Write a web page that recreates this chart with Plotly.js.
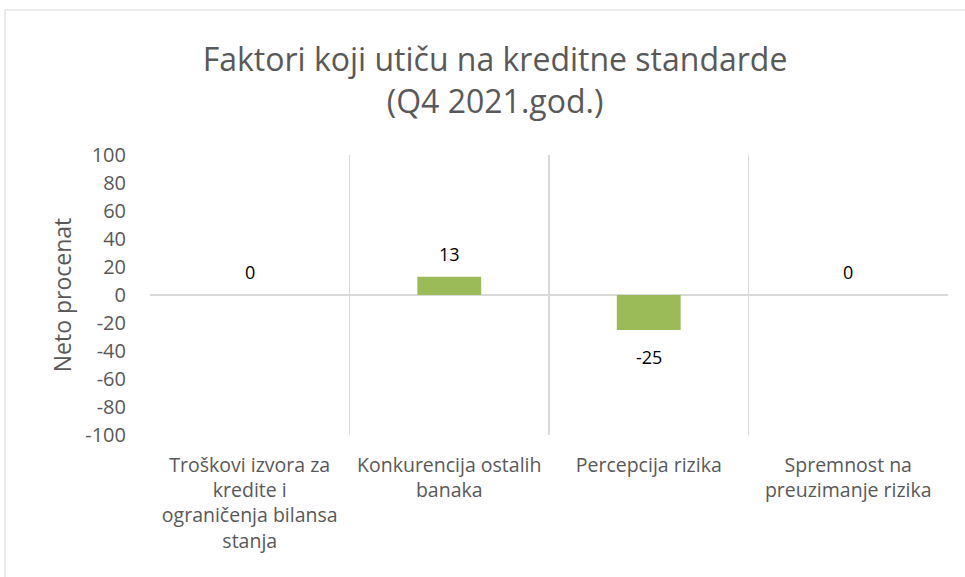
<!DOCTYPE html>
<html>
<head>
<meta charset="utf-8">
<script src="https://cdn.plot.ly/plotly-3.0.1.min.js"></script>
<style>
  html, body { margin: 0; padding: 0; background: #fff; }
  #chart { width: 965px; height: 577px; }
</style>
</head>
<body>
<div id="chart"></div>
<script>
const categories = [
  'Troškovi izvora za<br>kredite i<br>ograničenja bilansa<br>stanja',
  'Konkurencija ostalih<br>banaka',
  'Percepcija rizika',
  'Spremnost na<br>preuzimanje rizika'
];
const values = [0, 13, -25, 0];
const yTickVals = [100, 80, 60, 40, 20, 0, -20, -40, -60, -80, -100];

const FONT = '"Open Sans", sans-serif';

const trace = {
  type: 'bar',
  x: categories,
  y: values,
  width: 0.32,
  marker: { color: '#9BBB59' },
  hoverinfo: 'x+y'
};

const annotations = values.map((v, i) => ({
  x: categories[i],
  y: v,
  xref: 'x', yref: 'y',
  text: String(v),
  showarrow: false,
  yanchor: 'middle',
  yshift: v >= 0 ? 23 : -27,
  font: { family: FONT, size: 18, color: '#000000' }
}));

const layout = {
  width: 965,
  height: 577,
  margin: { l: 150, r: 17, t: 155, b: 142 },
  paper_bgcolor: '#ffffff',
  plot_bgcolor: '#ffffff',
  showlegend: false,
  font: { family: FONT, color: '#595959' },
  title: {
    text: 'Faktori koji utiču na kreditne standarde<br>(Q4 2021.god.)',
    font: { family: FONT, size: 32, color: '#595959' },
    x: 0.513, xref: 'container', xanchor: 'center',
    y: 0.877, yref: 'container', yanchor: 'middle'
  },
  xaxis: {
    type: 'category',
    tickson: 'boundaries',
    showgrid: true,
    gridcolor: '#D9D9D9',
    gridwidth: 1.5,
    showline: false,
    zeroline: false,
    ticks: '',
    ticklabelstandoff: 16,
    tickfont: { family: FONT, size: 19.5, color: '#595959' },
    range: [-0.5, 3.5],
    fixedrange: true
  },
  yaxis: {
    range: [-100, 100],
    tickmode: 'array',
    tickvals: yTickVals,
    ticktext: yTickVals.map(String),
    showgrid: false,
    zeroline: true,
    zerolinecolor: '#D9D9D9',
    zerolinewidth: 2,
    showline: false,
    ticks: '',
    ticklabelstandoff: 23,
    tickfont: { family: FONT, size: 20, color: '#595959' },
    title: {
      text: 'Neto procenat',
      font: { family: FONT, size: 23, color: '#595959' },
      standoff: 7
    },
    fixedrange: true
  },
  annotations: annotations,
  shapes: [{
    type: 'rect',
    xref: 'paper', yref: 'paper',
    x0: -0.1817, x1: 1.2,
    y0: -1, y1: 1.518,
    line: { color: '#D9D9D9', width: 1 },
    fillcolor: 'rgba(0,0,0,0)',
    layer: 'below'
  }]
};

Plotly.newPlot('chart', [trace], layout, { displayModeBar: false, staticPlot: true });
</script>
</body>
</html>
